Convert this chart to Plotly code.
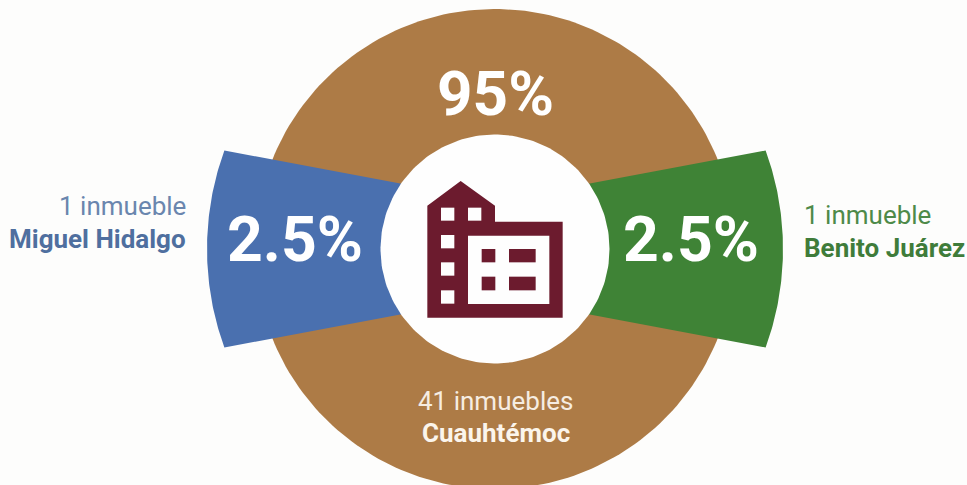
import numpy as np
import plotly.graph_objects as go

# Data
municipios = ["Cuauhtémoc", "Miguel Hidalgo", "Benito Juárez"]
porcentajes = ["95%", "2.5%", "2.5%"]
inmuebles = ["41 inmuebles", "1 inmueble", "1 inmueble"]

W, H = 967, 485
CX, CY = 495, 249
BROWN, BLUE, GREEN, MAROON = "#AD7B46", "#4A70AF", "#3F8336", "#6C1B2E"
BG = "#FDFDFC"
R_OUT, R_WEDGE, R_HOLE = 240, 288, 114.5
OUT_A, IN_A = 20.0, 35.5


def arc(r, a0, a1, n=80):
    t = np.radians(np.linspace(a0, a1, n))
    return CX + r * np.cos(t), CY - r * np.sin(t)


def wedge(mid):
    xo, yo = arc(R_WEDGE, mid - OUT_A, mid + OUT_A)
    xi, yi = arc(R_HOLE - 3, mid + IN_A, mid - IN_A, 30)
    return np.r_[xo, xi, xo[0]], np.r_[yo, yi, yo[0]]


fig = go.Figure()


def poly(x, y, color):
    fig.add_trace(go.Scatter(x=x, y=y, mode="lines", fill="toself", fillcolor=color,
                             line=dict(width=0, color=color), hoverinfo="skip", showlegend=False))


poly(*arc(R_OUT, 0, 360, 240), BROWN)
poly(*wedge(180), BLUE)
poly(*wedge(0), GREEN)
poly(*arc(R_HOLE, 0, 360, 200), "#FEFEFE")


# Building icon (reference crop units -> pixels)
def ux(u):
    return 370 + u / 3


def vy(v):
    return 110 + v / 3


poly([ux(u) for u in (172, 272, 375, 375, 578, 578, 172, 172)],
     [vy(v) for v in (287, 213, 287, 335, 335, 623, 623, 287)], MAROON)


def rect(u0, v0, u1, v1, color):
    fig.add_shape(type="rect", x0=ux(u0), x1=ux(u1), y0=vy(v0), y1=vy(v1),
                  fillcolor=color, line_width=0, layer="above")


for r in [(213, 293, 253, 332), (294, 293, 334, 332), (213, 375, 253, 415),
          (213, 457, 253, 497), (213, 541, 253, 581), (294, 377, 538, 582)]:
    rect(*r, "#FEFEFE")
for r in [(335, 417, 376, 457), (417, 417, 497, 457), (335, 500, 376, 541), (417, 500, 497, 541)]:
    rect(*r, MAROON)


def label(x, y, text, size, color, anchor="center", weight=400):
    fig.add_annotation(x=x, y=y, text=text, showarrow=False, xanchor=anchor, yanchor="middle",
                       font=dict(family="Roboto", size=size, color=color, weight=weight))


label(495, 93, porcentajes[0], 62, "white", weight=700)
label(295, 239, porcentajes[1], 62.5, "white", weight=700)
label(691, 239, porcentajes[2], 62.5, "white", weight=700)

label(495, 401, inmuebles[0], 26, "#F6EDE2")
label(496, 433, municipios[0], 26, "#FBF5EC", weight=700)
label(188, 206, inmuebles[1], 26, "#6A86AE", anchor="right")
label(188, 239, municipios[1], 26, "#4F6F9F", anchor="right", weight=700)
label(802, 215, inmuebles[2], 26, "#4E8A49", anchor="left")
label(802, 248, municipios[2], 26, "#3F7C3A", anchor="left", weight=700)

fig.update_layout(
    width=W, height=H, margin=dict(l=0, r=0, t=0, b=0),
    paper_bgcolor=BG, plot_bgcolor=BG, showlegend=False,
    xaxis=dict(range=[0, W], visible=False, fixedrange=True),
    yaxis=dict(range=[H, 0], visible=False, fixedrange=True),
)
fig.write_html("out.html", config={"displayModeBar": False},
               post_script="document.body.style.margin='0';document.body.style.overflow='hidden';")
